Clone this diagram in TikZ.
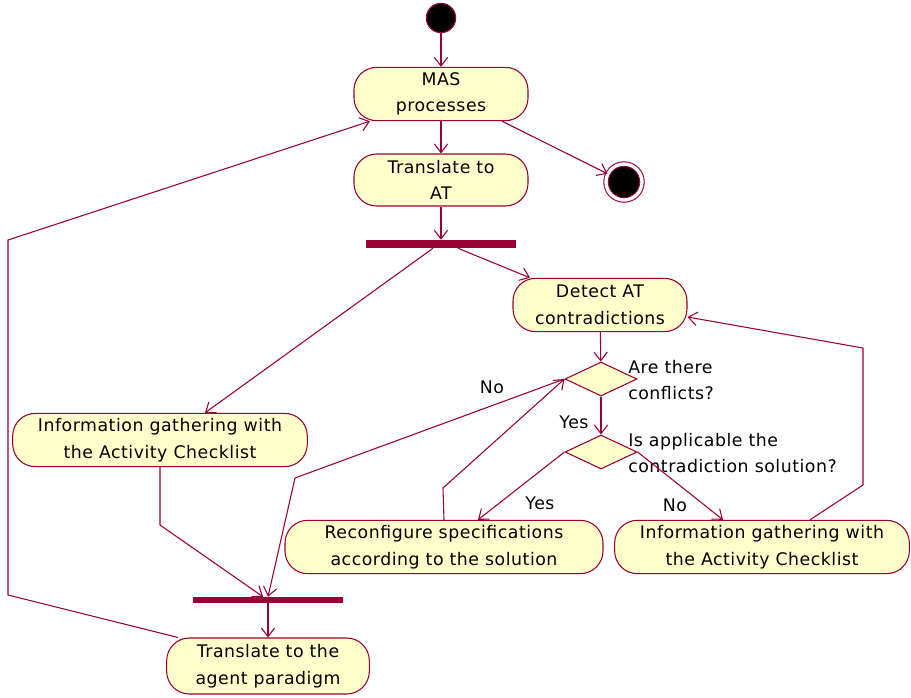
\documentclass[tikz,border=0pt]{standalone}
\usepackage{fontspec}
\setmainfont{DejaVu Sans}[LetterSpace=3]
\usetikzlibrary{shapes.geometric, arrows.meta}
\definecolor{umlred}{RGB}{153,0,51}
\definecolor{umlyellow}{RGB}{255,255,204}
\tikzstyle{arrow} = [draw=umlred, line width=0.8pt, -{Straight Barb[length=6.5pt,width=10pt]}]
\tikzstyle{action} = [rectangle, rounded corners=17pt, draw=umlred, line width=0.8pt, fill=umlyellow, align=center, minimum width=130.5pt, minimum height=40pt, inner sep=2pt]
\tikzstyle{decision} = [diamond, draw=umlred, line width=0.8pt, fill=umlyellow, minimum width=54pt, minimum height=25.5pt, inner sep=0pt]
\tikzstyle{syncbar} = [rectangle, fill=umlred, minimum width=113pt, minimum height=6pt, inner sep=0pt]
\tikzstyle{startnode} = [circle, fill=black, draw=umlred, line width=0.8pt, minimum size=22pt, inner sep=0pt]
\tikzstyle{endnode} = [circle, fill=black, draw=umlred, line width=0.8pt, double=white, double distance=2.5pt, minimum size=27pt, inner sep=0pt]
\tikzstyle{guard} = [align=left, inner sep=0pt]

\begin{document}
\begin{tikzpicture}[x=0.75pt, y=-0.75pt, font=\fontsize{13}{20}\selectfont]
		\useasboundingbox (0,0) rectangle (911,697);
		\node (start) [startnode] at (441,18) {};
		\node (mas) [action] at (441,94) {MAS\\processes};
		\node (toat) [action, minimum height=39pt] at (441,180) {Translate to\\AT};
		\node (end) [endnode] at (624,182) {};
		\node (fork) [syncbar] at (441,244) {};
		\node (detect) [action] at (600,305) {Detect AT\\contradictions};
		\node (conflicts) [decision] at (601,379) {};
		\node (applicable) [decision] at (601,452) {};
		\node (infoleft) [action, minimum width=221pt] at (160,440) {Information gathering with\\the Activity Checklist};
		\node (inforight) [action, minimum width=221pt] at (762,547) {Information gathering with\\the Activity Checklist};
		\node (reconf) [action, minimum width=238.5pt] at (444,547) {Reconfigure specifications\\according to the solution};
		\node (join) [syncbar, minimum height=4.5pt] at (268,600) {};
		\node (toagent) [action, minimum width=152pt, minimum height=42pt] at (268,666) {Translate to the\\agent paradigm};
		\node (conflictq) [guard, anchor=west] at (628,380) {Are there\\conflicts?};
		\node (applicableq) [guard, anchor=west] at (628,453) {Is applicable the\\contradiction solution?};
		\node (yesone) at (574,422) {Yes};
		\node (yestwo) at (540,503) {Yes};
		\node (noone) at (492,387) {No};
		\node (notwo) at (675,505) {No};

		\draw [arrow] (start) -- (mas);
		\draw [arrow] (mas) -- (toat);
		\draw [arrow] (toat) -- (fork);
		\draw [arrow] ([xshift=45.75pt]mas.south) -- (end);
		\draw [arrow] ([xshift=12.75pt]fork.south) -- ([xshift=-52.5pt]detect.north);
		\draw [arrow] ([xshift=-6pt]fork.south) -- ([xshift=33.75pt]infoleft.north);
		\draw [arrow] (detect) -- (conflicts);
		\draw [arrow] (conflicts) -- (applicable);
		\draw [arrow] (applicable.east) -- ([xshift=-29.25pt]inforight.north);
		\draw [arrow] (applicable.west) -- ([xshift=25.5pt]reconf.north);
		\draw [arrow] ([xshift=36pt]inforight.north) -- (863,485) -- (863,348) -- ([yshift=-9pt]detect.east);
		\draw [arrow] (reconf.north) -- (443,488) -- (conflicts.west);
		\draw [arrow] (conflicts.west) -- (295,478) -- (join.north);
		\draw [arrow] (infoleft.south) -- (160,525) -- ([xshift=-3.75pt]join.north);
		\draw [arrow] (join) -- (toagent);
		\draw [arrow] ([xshift=-67.5pt]toagent.north) -- (8,595) -- (8,240) -- ([xshift=-53.25pt]mas.south);
	\end{tikzpicture}
\end{document}
